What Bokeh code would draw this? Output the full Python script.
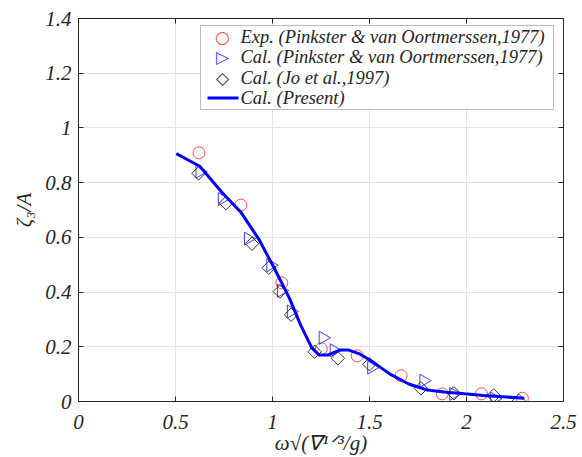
import numpy as np
from bokeh.plotting import figure
from bokeh.models import LinearAxis, Range1d, FixedTicker, Label, BoxAnnotation
from bokeh.embed import file_html
from bokeh.resources import INLINE

# Exp. (Pinkster & van Oortmerssen, 1977)
exp_x = [0.621, 0.837, 1.048, 1.252, 1.437, 1.663, 1.875, 2.077, 2.288]
exp_y = [0.909, 0.718, 0.434, 0.193, 0.167, 0.094, 0.028, 0.028, 0.012]

# Cal. (Pinkster & van Oortmerssen, 1977)
pvo_x = [0.625, 0.740, 0.875, 0.990, 1.045, 1.096, 1.260, 1.317, 1.510, 1.779, 1.933, 2.144]
pvo_y = [0.840, 0.740, 0.595, 0.498, 0.405, 0.329, 0.233, 0.187, 0.124, 0.076, 0.028, 0.010]

# Cal. (Jo et al., 1997)
jo_x = [0.619, 0.760, 0.894, 0.981, 1.038, 1.096, 1.217, 1.337, 1.500, 1.765, 1.935, 2.140, 2.270]
jo_y = [0.834, 0.725, 0.577, 0.489, 0.402, 0.317, 0.182, 0.158, 0.136, 0.048, 0.030, 0.022, 0.002]

# Cal. (Present)
pr_x = [0.504, 0.625, 0.740, 0.837, 0.933, 1.010, 1.087, 1.144, 1.202, 1.240, 1.288,
        1.346, 1.394, 1.452, 1.510, 1.606, 1.702, 1.798, 1.894, 1.990, 2.087, 2.298]
pr_y = [0.906, 0.860, 0.764, 0.692, 0.589, 0.486, 0.378, 0.281, 0.197, 0.170, 0.170,
        0.188, 0.188, 0.173, 0.148, 0.100, 0.064, 0.042, 0.034, 0.028, 0.022, 0.012]

series_labels = ["Exp. (Pinkster & van Oortmerssen,1977)",
                 "Cal. (Pinkster & van Oortmerssen,1977)",
                 "Cal. (Jo et al.,1997)",
                 "Cal. (Present)"]

x_ticks = [0, 0.5, 1, 1.5, 2, 2.5]
y_ticks = [0, 0.2, 0.4, 0.6, 0.8, 1, 1.2, 1.4]

FONT = "Liberation Serif"
AX = "#262626"
C_EXP = "#ff4d4d"
C_PVO = "#4040ff"
C_JO = "#333333"
C_PR = "#0000ff"

p = figure(width=582, height=457, output_backend="svg", toolbar_location=None,
           x_range=Range1d(0, 2.5), y_range=Range1d(0, 1.4),
           min_border_left=78, min_border_right=19, min_border_top=18, min_border_bottom=53)
p.background_fill_color = "white"
p.border_fill_color = "white"
p.outline_line_color = AX
p.outline_line_width = 1

for ax, ticks in ((p.xaxis[0], x_ticks), (p.yaxis[0], y_ticks)):
    ax.ticker = FixedTicker(ticks=ticks)
    ax.major_tick_in = 5
    ax.major_tick_out = 0
    ax.minor_tick_line_color = None
    ax.axis_line_color = AX
    ax.major_tick_line_color = AX
    ax.major_label_text_font = FONT
    ax.major_label_text_font_style = "italic"
    ax.major_label_text_font_size = "21px"
    ax.major_label_text_color = AX
    ax.axis_label_text_font = FONT
    ax.axis_label_text_font_style = "italic"
    ax.axis_label_text_font_size = "21px"
    ax.axis_label_text_color = AX

p.xaxis[0].major_label_standoff = 13
p.xaxis[0].axis_label = "ω√(∇¹ᐟ³/g)"
p.xaxis[0].axis_label_standoff = -1
p.yaxis[0].major_label_standoff = 7
p.yaxis[0].axis_label = "ζ₃/A"
p.yaxis[0].axis_label_standoff = 6

for loc, ticks in (("above", x_ticks), ("right", y_ticks)):
    a = LinearAxis(ticker=FixedTicker(ticks=ticks))
    a.major_tick_in = 5
    a.major_tick_out = 0
    a.minor_tick_line_color = None
    a.axis_line_color = AX
    a.major_tick_line_color = AX
    a.major_label_overrides = {t: "" for t in ticks}
    a.major_label_standoff = 0
    p.add_layout(a, loc)

p.xgrid.ticker = FixedTicker(ticks=x_ticks)
p.ygrid.ticker = FixedTicker(ticks=y_ticks)
p.grid.grid_line_color = "#e3e3e3"
p.grid.grid_line_width = 1

p.scatter(exp_x, exp_y, marker="circle", size=12, fill_color=None,
          line_color=C_EXP, line_width=1)
p.scatter(pvo_x, pvo_y, marker="triangle", size=13, angle=-np.pi / 2,
          fill_color=None, line_color=C_PVO, line_width=1)
p.scatter(jo_x, jo_y, marker="square", size=9.5, angle=np.pi / 4,
          fill_color=None, line_color=C_JO, line_width=1)
p.line(pr_x, pr_y, line_color=C_PR, line_width=3)

SCR = dict(x_units="screen", y_units="screen")
BOX_SCR = dict(left_units="screen", right_units="screen",
               top_units="screen", bottom_units="screen")

# Legend (drawn by hand, screen units relative to the plot frame, y up from frame bottom)
LEG_L, LEG_R, LEG_T, LEG_B = 122, 475, 376, 292
ROW0, ROW_STEP = 365, 20.5
SYM_X, TXT_X = 144, 162
p.add_layout(BoxAnnotation(left=LEG_L, right=LEG_R, top=LEG_T, bottom=LEG_B,
                           fill_color="white", fill_alpha=1.0,
                           line_color=AX, line_width=1, **BOX_SCR))
symbols = [("○", C_EXP, "17px"), ("▷", C_PVO, "17px"), ("◇", C_JO, "17px")]
for i, lab in enumerate(series_labels):
    yy = ROW0 - i * ROW_STEP
    if i < 3:
        s, c, fs = symbols[i]
        p.add_layout(Label(x=SYM_X, y=yy, text=s, text_color=c, text_font="DejaVu Sans",
                           text_font_size=fs, text_align="center", text_baseline="middle", **SCR))
    else:
        p.add_layout(BoxAnnotation(left=SYM_X - 15, right=SYM_X + 16, top=yy + 1.5,
                                   bottom=yy - 1.5, fill_color=C_PR, fill_alpha=1.0,
                                   line_color=None, **BOX_SCR))
    p.add_layout(Label(x=TXT_X, y=yy, text=lab, text_color=AX, text_font=FONT,
                       text_font_style="italic", text_font_size="18.5px",
                       text_align="left", text_baseline="middle", **SCR))

open("out.html", "w").write(file_html(p, INLINE))
